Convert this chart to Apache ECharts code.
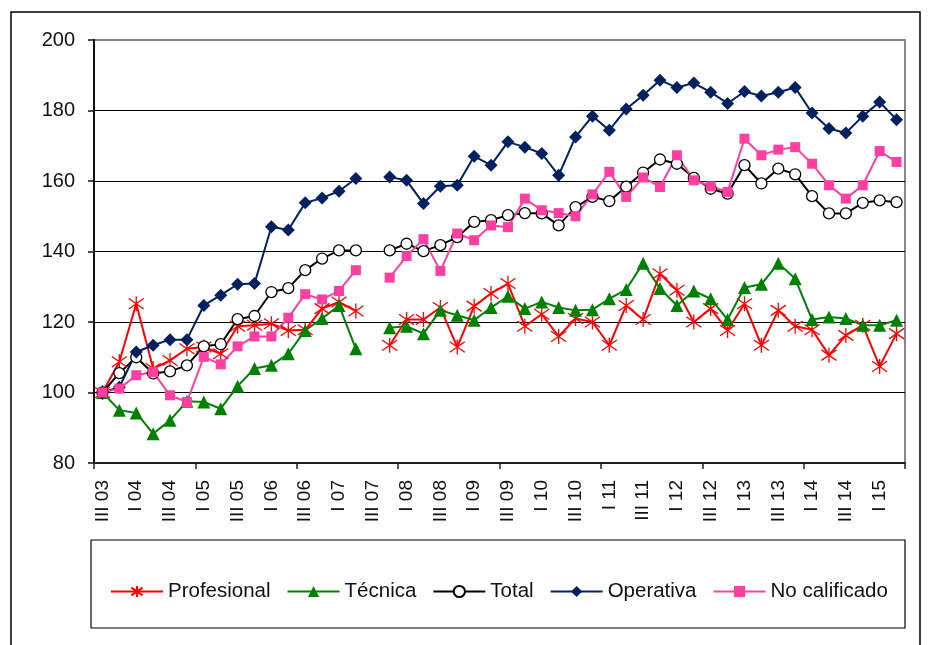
<!DOCTYPE html>
<html>
<head>
<meta charset="utf-8">
<script src="https://cdn.jsdelivr.net/npm/echarts@6/dist/echarts.min.js"></script>
<style>
  html, body { margin: 0; padding: 0; background: #fff; }
</style>
</head>
<body>
<div id="main" style="width: 936px;height:645px;"></div>
<script>
// trimestres III 03 .. II 15
var quarters = ['III 03','IV 03','I 04','II 04','III 04','IV 04','I 05','II 05','III 05','IV 05',
  'I 06','II 06','III 06','IV 06','I 07','II 07','III 07','IV 07','I 08','II 08','III 08','IV 08',
  'I 09','II 09','III 09','IV 09','I 10','II 10','III 10','IV 10','I 11','II 11','III 11','IV 11',
  'I 12','II 12','III 12','IV 12','I 13','II 13','III 13','IV 13','I 14','II 14','III 14','IV 14',
  'I 15','II 15'];

var profesional = [100,108.7,125.2,106.8,109.1,112.4,112.9,111,118.8,119.1,119.5,117.6,117.8,123.8,125.7,123.1,null,
  113.4,120.7,120.7,124.1,112.9,124.5,128.1,130.9,118.8,122.2,115.9,121,120,113.4,124.7,120.7,133.7,129,120,
  123.8,117.6,125.2,113.4,123.3,118.8,117.8,110.6,116.2,119.1,107.4,116.7];

var tecnica = [100,95,94.2,88.3,92.1,97.5,97.3,95.4,101.8,106.8,107.7,111,117.6,121,124.7,112.4,null,
  118.4,118.8,116.7,123.3,121.9,120.5,124.1,127.3,123.8,125.7,124.1,123.3,123.5,126.6,129.2,136.7,129.5,124.7,
  128.8,126.6,120.7,129.8,130.7,136.7,132.3,120.7,121.4,121,119.1,119.1,120.5];

var total = [100,105.5,110,105.4,106,107.7,113.1,113.7,120.8,121.7,128.5,129.6,134.7,138,140.3,140.3,null,
  140.3,142.2,140.1,141.8,144.1,148.4,148.9,150.3,150.9,150.8,147.4,152.6,155.5,154.3,158.4,162.4,166.1,164.9,
  160.9,157.8,156.4,164.5,159.3,163.5,161.9,155.7,150.8,150.8,153.8,154.5,154];

var operativa = [100,101.5,111.5,113.4,115,115,124.7,127.6,130.7,130.9,147,146.1,153.8,155.2,157.1,160.7,null,
  161.1,160.2,153.6,158.5,158.8,167,164.5,171.1,169.6,167.8,161.6,172.5,178.4,174.4,180.4,184.3,188.6,186.5,
  187.8,185.2,182,185.4,184.1,185.2,186.5,179.3,174.9,173.6,178.4,182.4,177.4];

var noCalificado = [100,101.1,104.9,105.8,99.2,97.3,110.1,108,113.1,115.9,115.9,121.2,127.9,126.4,128.8,134.7,null,
  132.6,138.7,143.5,134.5,145.1,143.2,147.4,146.9,155,151.7,150.9,150,156.2,162.6,155.5,161,158.3,167.3,
  160.2,158.5,156.9,172,167.3,168.9,169.6,164.9,158.8,155,158.8,168.5,165.4];

var font = 'Liberation Sans, Arial, sans-serif';
var asterisk = 'path://M5,0L5,10M0.7,1.5L9.3,8.5M0.7,8.5L9.3,1.5';

var myChart = echarts.init(document.getElementById('main'));

var option = {
  animation: false,
  backgroundColor: '#fff',
  textStyle: { fontFamily: font },
  grid: {
    left: 94, right: 31, top: 40, bottom: 182,
    show: true, borderColor: '#888', borderWidth: 2
  },
  legend: {
    left: 105, top: 576,
    itemWidth: 52, itemHeight: 14, itemGap: 16,
    textStyle: { fontSize: 20.5, color: '#111', fontFamily: font },
    data: ['Profesional','Técnica','Total','Operativa','No calificado']
  },
  graphic: [
    { type: 'rect', shape: { x: 11, y: 12, width: 909, height: 660 },
      style: { fill: 'none', stroke: '#000', lineWidth: 1.5 }, silent: true },
    { type: 'rect', shape: { x: 91, y: 540, width: 814, height: 88 },
      style: { fill: 'none', stroke: '#000', lineWidth: 1.2 }, silent: true }
  ],
  xAxis: {
    type: 'category',
    data: quarters,
    boundaryGap: true,
    axisLine: { lineStyle: { color: '#222', width: 2 } },
    axisTick: { show: true, interval: 5, length: 6, lineStyle: { color: '#222', width: 1.5 } },
    axisLabel: { interval: 1, rotate: 90, margin: 17, fontSize: 19, color: '#111', fontFamily: font },
    splitLine: { show: false }
  },
  yAxis: {
    type: 'value',
    min: 80, max: 200, interval: 20,
    axisLine: { show: true, lineStyle: { color: '#111', width: 2 } },
    axisTick: { show: true, length: 6, lineStyle: { color: '#111', width: 1.5 } },
    axisLabel: { fontSize: 20, color: '#111', margin: 19, fontFamily: font },
    splitLine: { lineStyle: { color: ['#000','#000','#000','#000','#000','#000','#888'], width: 1.2 } }
  },
  series: [
    {
      name: 'Profesional', type: 'line', data: profesional, connectNulls: false, showAllSymbol: true,
      symbol: asterisk, symbolSize: 15,
      lineStyle: { color: '#ff0000', width: 2 },
      itemStyle: { color: '#ff0000', borderColor: '#ff0000', borderWidth: 1.3 }
    },
    {
      name: 'Técnica', type: 'line', data: tecnica, connectNulls: false, showAllSymbol: true,
      symbol: 'triangle', symbolSize: 13,
      lineStyle: { color: '#008000', width: 2 },
      itemStyle: { color: '#008000' }
    },
    {
      name: 'Total', type: 'line', data: total, connectNulls: false, showAllSymbol: true,
      symbol: 'circle', symbolSize: 11,
      lineStyle: { color: '#000', width: 2 },
      itemStyle: { color: '#fff', borderColor: '#000', borderWidth: 1.3 }
    },
    {
      name: 'Operativa', type: 'line', data: operativa, connectNulls: false, showAllSymbol: true,
      symbol: 'diamond', symbolSize: 13,
      lineStyle: { color: '#002060', width: 2 },
      itemStyle: { color: '#002060' }
    },
    {
      name: 'No calificado', type: 'line', data: noCalificado, connectNulls: false, showAllSymbol: true,
      symbol: 'rect', symbolSize: 10,
      lineStyle: { color: '#ff40a0', width: 2 },
      itemStyle: { color: '#ff40a0' }
    }
  ]
};

myChart.setOption(option);
</script>
</body>
</html>
